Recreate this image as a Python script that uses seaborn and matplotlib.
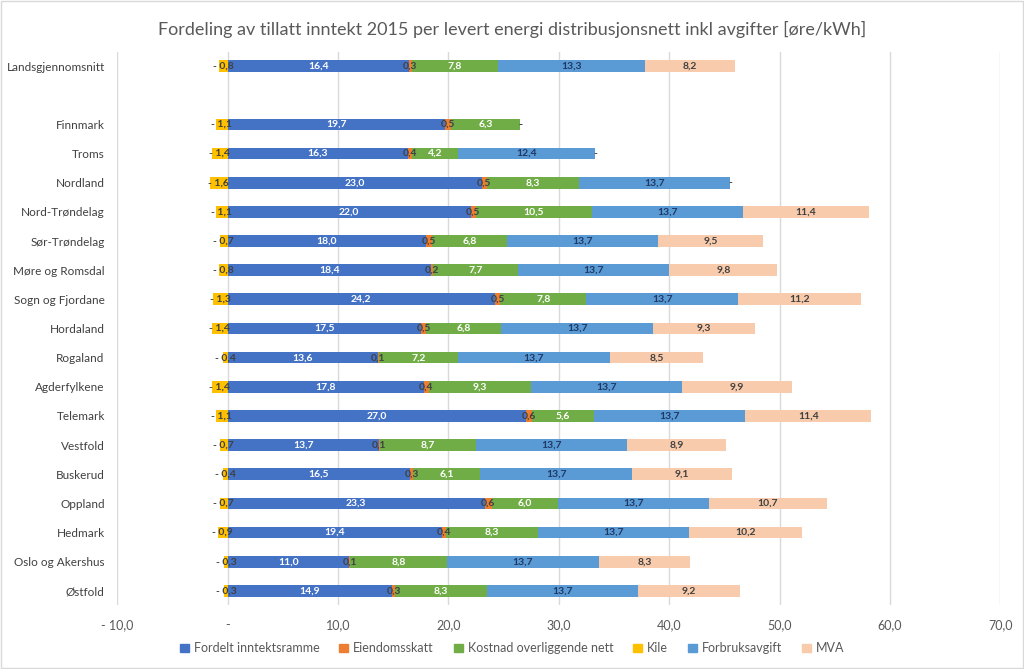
import seaborn as sns
import matplotlib.pyplot as plt
import pandas as pd
from matplotlib.patches import Rectangle

regions = ['Landsgjennomsnitt', 'Finnmark', 'Troms', 'Nordland', 'Nord-Trøndelag',
           'Sør-Trøndelag', 'Møre og Romsdal', 'Sogn og Fjordane', 'Hordaland',
           'Rogaland', 'Agderfylkene', 'Telemark', 'Vestfold', 'Buskerud',
           'Oppland', 'Hedmark', 'Oslo og Akershus', 'Østfold']

fordelt = [16.4, 19.7, 16.3, 23.0, 22.0, 18.0, 18.4, 24.2, 17.5, 13.6, 17.8, 27.0, 13.7, 16.5, 23.3, 19.4, 11.0, 14.9]
eiendom = [0.3, 0.5, 0.4, 0.5, 0.5, 0.5, 0.2, 0.5, 0.5, 0.1, 0.4, 0.6, 0.1, 0.3, 0.6, 0.4, 0.1, 0.3]
kostnad = [7.8, 6.3, 4.2, 8.3, 10.5, 6.8, 7.7, 7.8, 6.8, 7.2, 9.3, 5.6, 8.7, 6.1, 6.0, 8.3, 8.8, 8.3]
kile = [-0.8, -1.1, -1.4, -1.6, -1.1, -0.7, -0.8, -1.3, -1.4, -0.4, -1.4, -1.1, -0.7, -0.4, -0.7, -0.9, -0.3, -0.3]
forbruk = [13.3, 0.0, 12.4, 13.7, 13.7, 13.7, 13.7, 13.7, 13.7, 13.7, 13.7, 13.7, 13.7, 13.7, 13.7, 13.7, 13.7, 13.7]
mva = [8.2, 0.0, 0.0, 0.0, 11.4, 9.5, 9.8, 11.2, 9.3, 8.5, 9.9, 11.4, 8.9, 9.1, 10.7, 10.2, 8.3, 9.2]

# blank row between the average and the counties
order = [regions[0], ' '] + regions[1:]

df = pd.DataFrame({'region': regions, 'Fordelt inntektsramme': fordelt, 'Eiendomsskatt': eiendom,
                   'Kostnad overliggende nett': kostnad, 'Kile': kile,
                   'Forbruksavgift': forbruk, 'MVA': mva})

stack = ['Fordelt inntektsramme', 'Eiendomsskatt', 'Kostnad overliggende nett', 'Forbruksavgift', 'MVA']
series = ['Fordelt inntektsramme', 'Eiendomsskatt', 'Kostnad overliggende nett', 'Kile', 'Forbruksavgift', 'MVA']
colors = {'Fordelt inntektsramme': '#4472C4', 'Eiendomsskatt': '#ED7D31',
          'Kostnad overliggende nett': '#70AD47', 'Kile': '#FFC000',
          'Forbruksavgift': '#5B9BD5', 'MVA': '#F8CBAD'}
txtcol = {'Fordelt inntektsramme': 'white', 'Eiendomsskatt': '#404040',
          'Kostnad overliggende nett': 'white', 'Kile': '#404040',
          'Forbruksavgift': '#1F3864', 'MVA': '#404040'}

sns.set_style('white')
plt.rcParams['font.family'] = ['Lato', 'DejaVu Sans']

fig = plt.figure(figsize=(10.24, 6.69), dpi=100)
ax = fig.add_axes([0.1145, 0.095, 0.8625, 0.828])

# cumulative sums, drawn from the longest down so each segment shows
cum = df[stack].cumsum(axis=1)
for col in reversed(stack):
    sns.barplot(x=cum[col], y=df['region'], order=order, orient='h', color=colors[col],
                saturation=1, width=0.4, linewidth=0, ax=ax)
sns.barplot(x=df['Kile'], y=df['region'], order=order, orient='h', color=colors['Kile'],
            saturation=1, width=0.4, linewidth=0, ax=ax)


def fmt(v):
    if v == 0:
        return '-'
    s = f"{abs(v):.1f}".replace('.', ',')
    return '- ' + s if v < 0 else s


for _, row in df.iterrows():
    y = order.index(row['region'])
    left = 0
    for col in stack:
        v = row[col]
        ax.text(left + v / 2, y, fmt(v), ha='center', va='center', fontsize=7.5,
                fontweight='bold', color=txtcol[col])
        left += v
    ax.text(row['Kile'] / 2, y, fmt(row['Kile']), ha='center', va='center', fontsize=7.5,
            fontweight='bold', color=txtcol['Kile'])

ax.set_xlim(-10, 70)
ax.set_ylim(len(order) - 0.5, -0.5)
ticks = list(range(-10, 80, 10))
ax.set_xticks(ticks)
ax.set_xticklabels([fmt(t) for t in ticks], color='#595959', fontsize=9)
ax.tick_params(axis='both', length=0)
ax.tick_params(axis='x', pad=10)
ax.tick_params(axis='y', labelsize=8.5, labelcolor='#404040', pad=9)
ax.grid(axis='x', color='#D9D9D9', linewidth=1)
ax.set_axisbelow(True)
ax.set_xlabel('')
ax.set_ylabel('')
for s in ax.spines.values():
    s.set_visible(False)

fig.suptitle('Fordeling av tillatt inntekt 2015 per levert energi distribusjonsnett inkl avgifter [øre/kWh]',
             y=0.968, fontsize=13, color='#595959')

handles = [plt.Rectangle((0, 0), 1, 1, color=colors[c]) for c in series]
fig.legend(handles, series, loc='center', bbox_to_anchor=(0.5, 0.031), ncol=6, frameon=False,
           fontsize=9, handlelength=0.7, handleheight=0.7, handletextpad=0.4, columnspacing=1.6,
           labelcolor='#595959')

fig.patches.append(Rectangle((0.001, 0.001), 0.998, 0.998, transform=fig.transFigure,
                             fill=False, edgecolor='#D9D9D9', linewidth=1))

fig.savefig('out.png', dpi=100)
